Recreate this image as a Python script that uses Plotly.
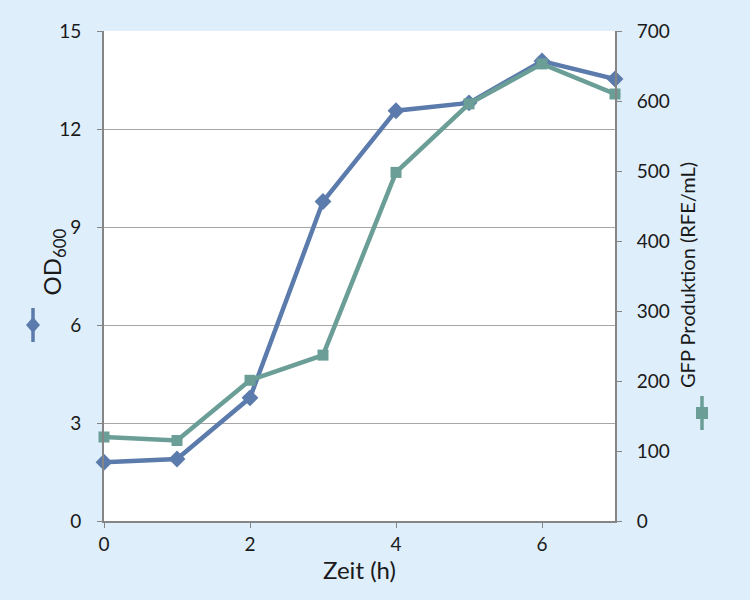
import plotly.graph_objects as go

# data
zeit = [0, 1, 2, 3, 4, 5, 6, 7]
od600 = [1.8, 1.9, 3.77, 9.78, 12.56, 12.8, 14.08, 13.53]
gfp = [120, 115, 201, 237, 498, 596, 653, 610]

od_ticks = [0, 3, 6, 9, 12, 15]
gfp_ticks = [0, 100, 200, 300, 400, 500, 600, 700]
zeit_ticks = [0, 2, 4, 6]

OD_COL = '#5b7bac'
GFP_COL = '#6b9e97'
BG = '#deeefb'
AXIS = '#858585'
FONT = 'Lato'

W, H = 750, 600
L, R, T, B = 104, 135, 31, 79
PW, PH = W - L - R, H - T - B


def px(x):
    """ pixel column -> paper x """
    return (x - L) / PW


def py(y):
    """ pixel row -> paper y """
    return (H - B - y) / PH


fig = go.Figure()

fig.add_trace(go.Scatter(
    x=zeit, y=od600, name='OD600', mode='lines+markers',
    line=dict(color=OD_COL, width=4.5),
    marker=dict(symbol='diamond', size=13, color=OD_COL),
    cliponaxis=False))

fig.add_trace(go.Scatter(
    x=zeit, y=gfp, name='GFP', yaxis='y2', mode='lines+markers',
    line=dict(color=GFP_COL, width=4.5),
    marker=dict(symbol='square', size=11, color=GFP_COL),
    cliponaxis=False))

# little legend keys next to the axis titles
shapes = []
for cx, cy, col in [(33, 325, OD_COL), (702, 413, GFP_COL)]:
    shapes.append(dict(type='line', xref='paper', yref='paper',
                       x0=px(cx), x1=px(cx), y0=py(cy - 17), y1=py(cy + 17),
                       line=dict(color=col, width=3.5)))
# diamond for OD
cx, cy = 33, 325
shapes.append(dict(
    type='path', xref='paper', yref='paper', fillcolor=OD_COL,
    line=dict(width=0),
    path=(f'M {px(cx)} {py(cy - 8)} L {px(cx + 7)} {py(cy)} '
          f'L {px(cx)} {py(cy + 8)} L {px(cx - 7)} {py(cy)} Z')))
# square for GFP
cx, cy = 702, 413
shapes.append(dict(
    type='rect', xref='paper', yref='paper', fillcolor=GFP_COL,
    line=dict(width=0),
    x0=px(cx - 6), x1=px(cx + 6), y0=py(cy + 6), y1=py(cy - 6)))

annotations = [
    dict(text='OD<sub>600</sub>', xref='paper', yref='paper',
         x=px(34), y=py(262), textangle=-90, showarrow=False,
         font=dict(family=FONT, size=24, color='#1a1a1a')),
    dict(text='GFP Produktion (RFE/mL)', xref='paper', yref='paper',
         x=px(701), y=py(275), textangle=-90, showarrow=False,
         font=dict(family=FONT, size=20, color='#1a1a1a')),
]

fig.update_layout(
    width=W, height=H,
    margin=dict(l=L, r=R, t=T, b=B),
    paper_bgcolor=BG, plot_bgcolor='white',
    showlegend=False,
    font=dict(family=FONT, size=19, color='#1a1a1a'),
    xaxis=dict(range=[0, 7], tickvals=zeit_ticks, showgrid=False,
               zeroline=False, showline=True, linecolor=AXIS, linewidth=2,
               ticks='outside', ticklen=5, tickcolor=AXIS,
               title=dict(text='Zeit (h)', font=dict(size=24), standoff=8)),
    yaxis=dict(range=[0, 15], tickvals=od_ticks, showgrid=True,
               gridcolor='#a6a6a6', gridwidth=1, zeroline=False,
               showline=True, linecolor=AXIS, linewidth=2,
               ticks='outside', ticklen=5, tickcolor=AXIS,
               ticklabelstandoff=12),
    yaxis2=dict(range=[0, 700], tickvals=gfp_ticks, overlaying='y',
                side='right', showgrid=False, zeroline=False,
                showline=True, linecolor=AXIS, linewidth=2,
                ticks='outside', ticklen=5, tickcolor=AXIS,
                ticklabelstandoff=11),
    shapes=shapes,
    annotations=annotations,
)

# drop the page margin so the chart sits at the window corner
fig.write_html('out.html', config={'displayModeBar': False},
               post_script="document.body.style.margin='0';")
